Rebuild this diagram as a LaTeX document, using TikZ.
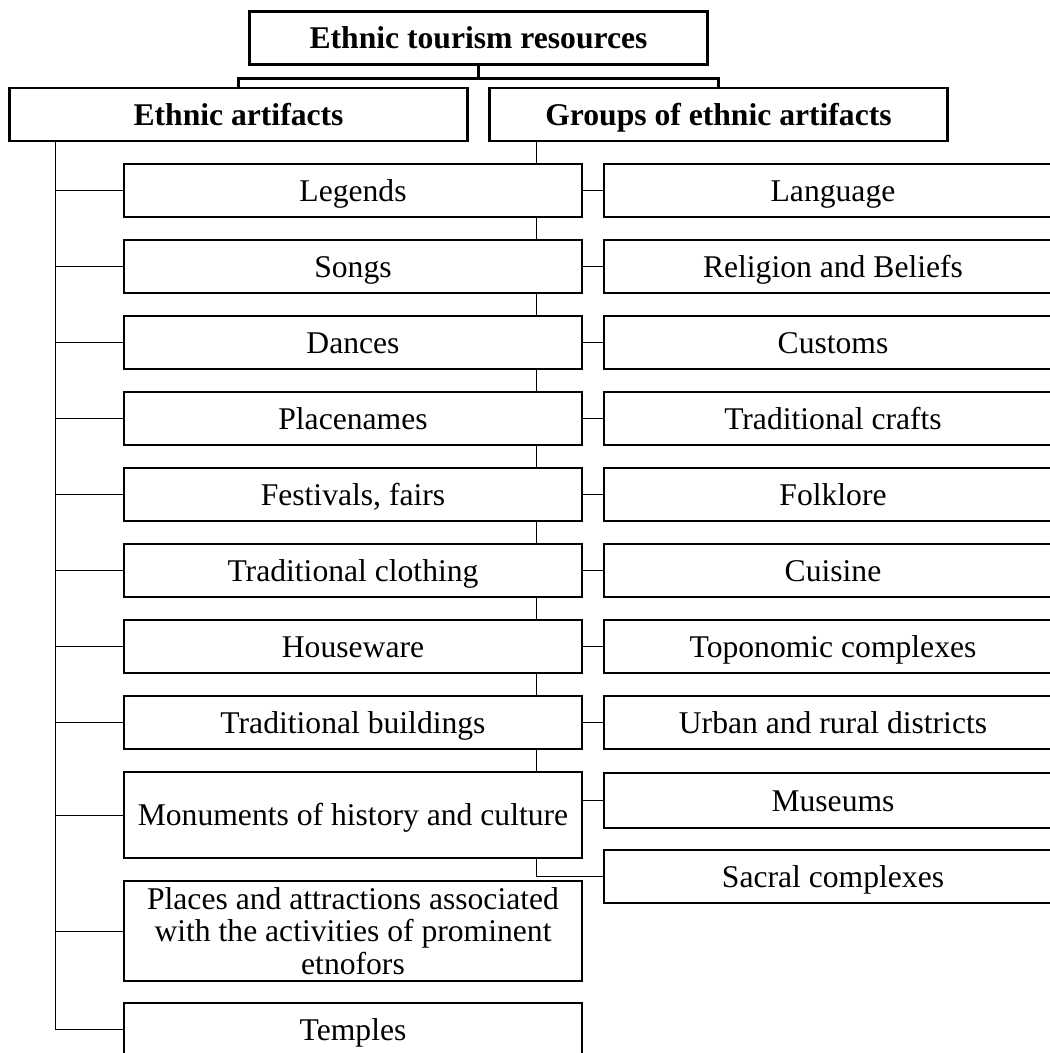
\documentclass[tikz,border=0pt]{standalone}
\usepackage{fontspec}
\setmainfont{Liberation Serif}
\usetikzlibrary{backgrounds}
\begin{document}
\begin{tikzpicture}[x=0.02cm,y=-0.02cm,line width=1.4pt,
	box/.style={draw,fill=white,minimum width=9.16cm,minimum height=1.06cm,inner sep=2pt,align=center,text height=14pt,text depth=2pt,font=\fontsize{18}{18.6}\selectfont},
	head/.style={box,font=\fontsize{18}{18.6}\selectfont\bfseries}]
	\useasboundingbox (0,0) rectangle (1049,1053);
	% top levels
	\node[head] (etr) at (478.5,38) {Ethnic tourism resources};
	\node[head] (ea) at (238.5,114.5) {Ethnic artifacts};
	\node[head] (ga) at (718.5,114.5) {Groups of ethnic artifacts};
	\draw (etr.south) -- ++(0,13) -| (ea.north);
	\draw (etr.south) -- ++(0,13) -| (ga.north);
	% left column
	\foreach \i/\t in {0/Legends,1/Songs,2/Dances,3/Placenames,{4/Festivals, fairs},5/Traditional clothing,6/Houseware,7/Traditional buildings}
		\node[box] (l\i) at (353,190.5+76*\i) {\t};
	\node[box,minimum height=1.72cm] (l8) at (353,815) {Monuments of history and culture};
	\node[box,minimum height=2cm,text height={},text depth={}] (l9) at (353,931) {Places and attractions associated\\with the activities of prominent\\etnofors};
	\node[box] (l10) at (353,1029.5) {Temples};
	% right column
	\foreach \i/\t in {0/Language,1/Religion and Beliefs,2/Customs,3/Traditional crafts,4/Folklore,5/Cuisine,6/Toponomic complexes,7/Urban and rural districts}
		\node[box] (r\i) at (833,190.5+76*\i) {\t};
	\node[box,minimum height=1.1cm] (r8) at (833,800.5) {Museums};
	\node[box] (r9) at (833,876.5) {Sacral complexes};
	% connectors
	\coordinate (lt) at (55,141);
	\coordinate (rt) at (536,141);
	\begin{pgfonlayer}{background}
		\draw (rt) |- (r9.west);
	\end{pgfonlayer}
	\draw (lt) |- (l10.west);
	\foreach \i in {0,...,9}
		\draw (lt |- l\i.west) -- (l\i.west);
	\foreach \i in {0,...,7}
		\draw (l\i.east) -- (r\i.west);
	\draw (r8.west) -- (r8.west -| l8.east);
\end{tikzpicture}
\end{document}
